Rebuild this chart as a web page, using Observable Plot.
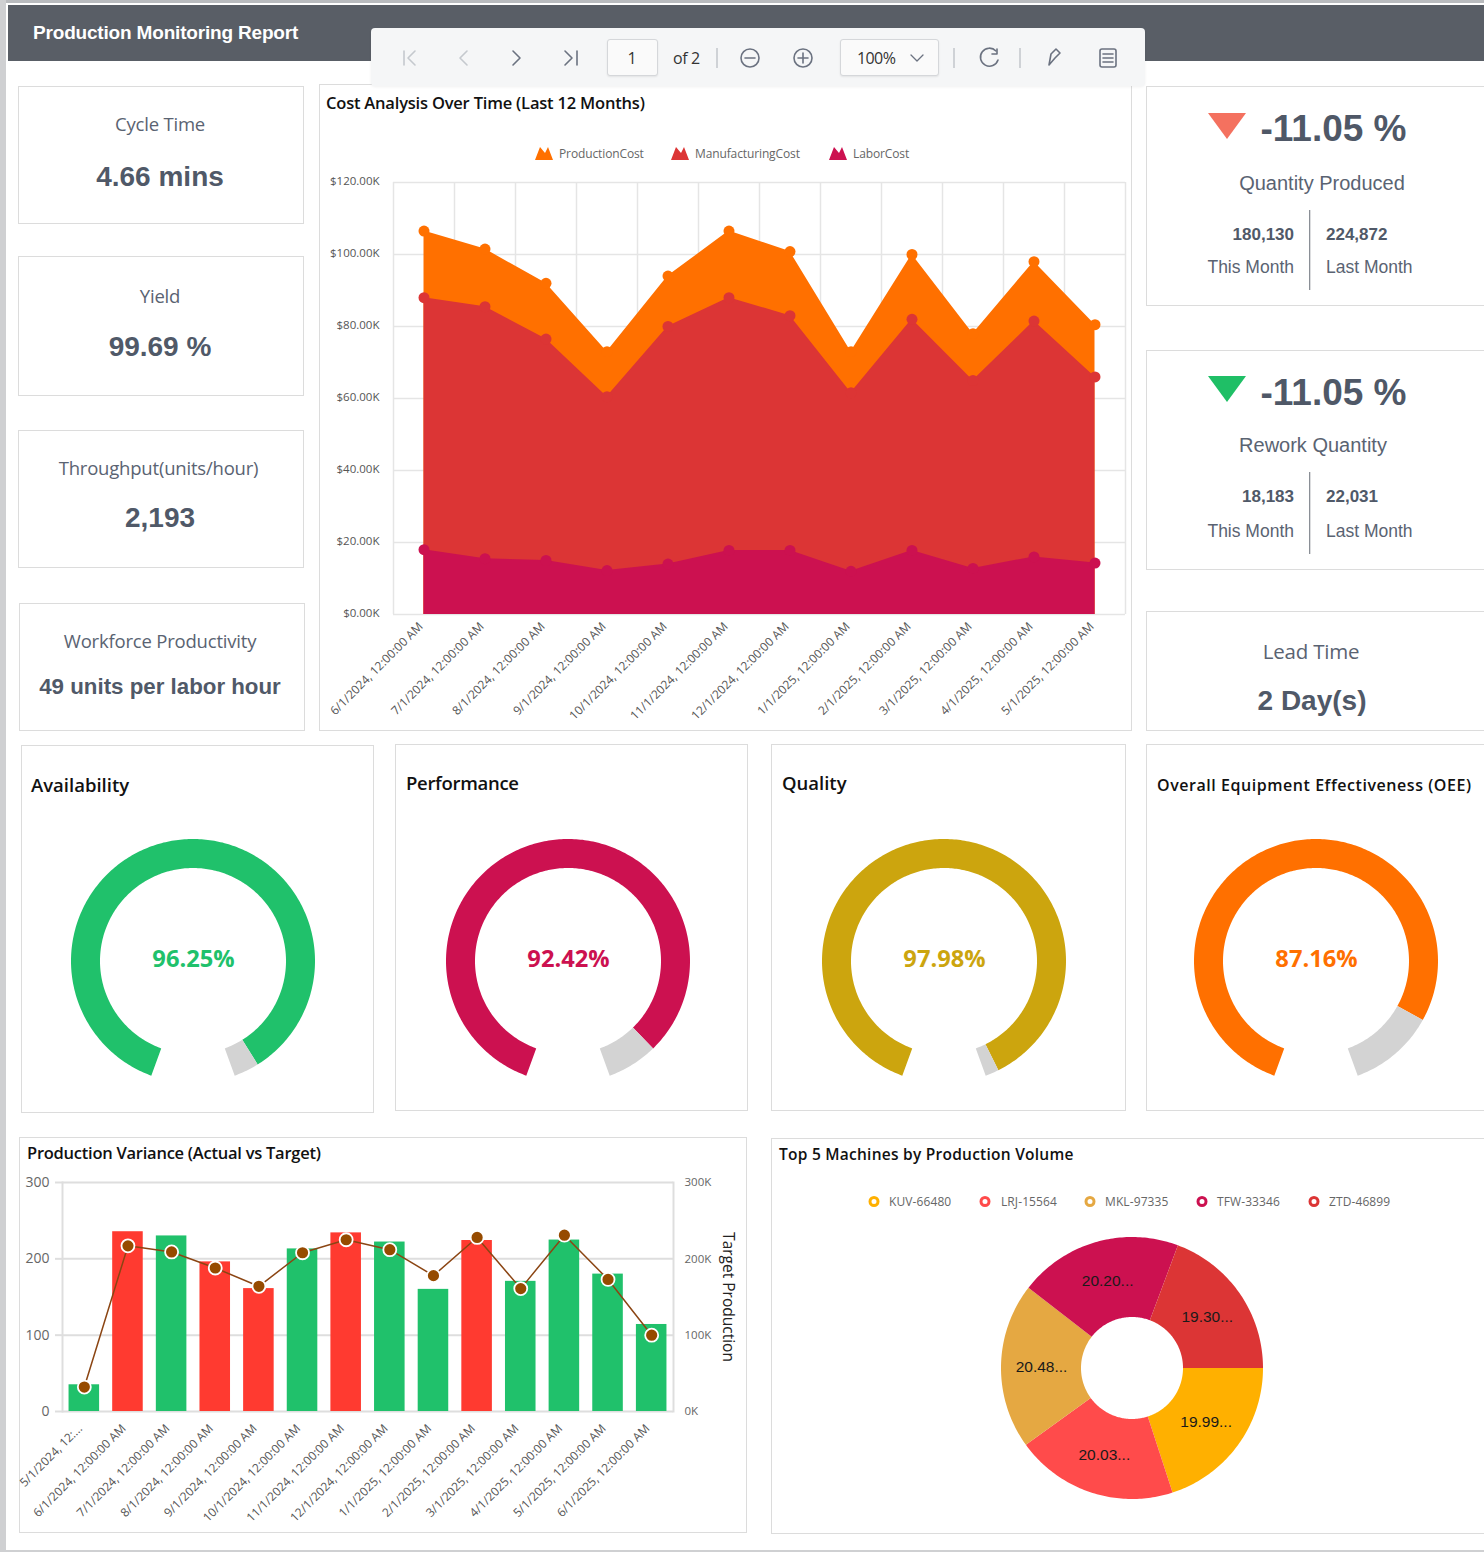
<!DOCTYPE html>
<html><head><meta charset="utf-8">
<script src="https://cdn.jsdelivr.net/npm/d3@7"></script>
<script src="https://cdn.jsdelivr.net/npm/@observablehq/plot@0.6"></script>
<style>
html,body{margin:0;padding:0;background:#fff;}
#page{position:relative;width:1484px;height:1552px;overflow:hidden;background:#fff;font-family:"Open Sans",sans-serif;color:#4f5867;}
.a{position:absolute;}
.t{position:absolute;white-space:nowrap;line-height:1;}
.p{position:absolute;box-sizing:border-box;border:1.5px solid #dcdcdc;background:#fff;}
</style></head><body><div id="page"></div>
<script>
// ---------- data ----------
const costDates = ["6/1/2024, 12:00:00 AM","7/1/2024, 12:00:00 AM","8/1/2024, 12:00:00 AM","9/1/2024, 12:00:00 AM","10/1/2024, 12:00:00 AM","11/1/2024, 12:00:00 AM","12/1/2024, 12:00:00 AM","1/1/2025, 12:00:00 AM","2/1/2025, 12:00:00 AM","3/1/2025, 12:00:00 AM","4/1/2025, 12:00:00 AM","5/1/2025, 12:00:00 AM"];
const productionCost = [106.5,101.5,92,73,94,106.5,100.8,73,100,78,98,80.5];
const manufacturingCost = [88,85.5,76.5,60.5,80,88,83,61.6,82,65,81.5,66];
const laborCost = [18,15.5,15,12.2,14,17.8,17.8,12,17.8,12.8,16,14.3];
const costTicks = [0,20,40,60,80,100,120];
const costSeries = ["ProductionCost","ManufacturingCost","LaborCost"];

const varDates = ["5/1/2024, 12:...","6/1/2024, 12:00:00 AM","7/1/2024, 12:00:00 AM","8/1/2024, 12:00:00 AM","9/1/2024, 12:00:00 AM","10/1/2024, 12:00:00 AM","11/1/2024, 12:00:00 AM","12/1/2024, 12:00:00 AM","1/1/2025, 12:00:00 AM","2/1/2025, 12:00:00 AM","3/1/2025, 12:00:00 AM","4/1/2025, 12:00:00 AM","5/1/2025, 12:00:00 AM","6/1/2025, 12:00:00 AM"];
const actual = [35,235.5,230,196,161,213,234,222,160,224,170.5,224.6,180,114];
const targetK = [32,217,209,188,164,208,225,212,178,228,161,231,173,100];
const missed = [0,1,0,1,1,0,1,0,0,1,0,0,0,0];

const machines = ["KUV-66480","LRJ-15564","MKL-97335","TFW-33346","ZTD-46899"];
const machineShare = [19.99,20.03,20.48,20.20,19.30];
const machineLabels = ["19.99...","20.03...","20.48...","20.20...","19.30..."];
const machineColors = ["#FFB000","#FF4B4B","#E5A842","#CC1150","#DC3535"];

const gaugeNames = ["Availability","Performance","Quality","Overall Equipment Effectiveness (OEE)"];
const gaugeValues = [96.25,92.42,97.98,87.16];
const gaugeColors = ["#20C16B","#CC1150","#CCA50E","#FF7000"];

const green="#20C16B", red="#FF3A30";
const page = document.getElementById("page");

// ---------- helpers ----------
function box(x,y,w,h,extra=""){const d=document.createElement("div");d.className="p";d.style.cssText=`left:${x}px;top:${y}px;width:${w}px;height:${h}px;${extra}`;page.appendChild(d);return d;}
function txt(x,y,s,css,anchor="c"){const d=document.createElement("div");d.className="t";d.textContent=s;
  const tx=anchor==="c"?"-50%":anchor==="r"?"-100%":"0";
  d.style.cssText=`left:${x}px;top:${y}px;transform:translate(${tx},-50%);${css}`;page.appendChild(d);return d;}
function place(svg,x,y){svg.style.position="absolute";svg.style.left=x+"px";svg.style.top=y+"px";svg.style.background="none";svg.style.maxWidth="none";svg.style.overflow="visible";page.appendChild(svg);}
function deco(html){const d=document.createElement("div");d.className="a";d.style.cssText="left:0;top:0;";d.innerHTML=`<svg width="1484" height="1552" style="position:absolute;left:0;top:0;pointer-events:none;overflow:visible">${html}</svg>`;page.appendChild(d);}

// ---------- chrome ----------
const arial='font-family:"Liberation Sans",sans-serif;';
const strip=(x,y,w,h,c)=>{const d=document.createElement("div");d.className="a";d.style.cssText=`left:${x}px;top:${y}px;width:${w}px;height:${h}px;background:${c}`;page.appendChild(d);};
strip(0,0,1484,3,"#b9bbbe");
strip(0,0,6,1552,"#cfd0d2");
strip(0,1550,1484,2,"#cfd0d2");
strip(8,5,1476,56,"#595e66");
txt(33,32,"Production Monitoring Report",`${arial}font-weight:700;font-size:19px;color:#fff;letter-spacing:-.18px;`,"l");

// panels
[[18,86,286,138],[18,256,286,140],[18,430,286,138],[19,603,286,128],
 [319,84,813,647],[1146,86,340,220],[1146,350,340,220],[1146,611,340,120],
 [21,745,353,368],[395,744,353,367],[771,744,355,367],[1146,744,340,367],
 [19,1137,728,396],[771,1138,715,396]].forEach(p=>box(...p));

// KPI left
const kL=[["Cycle Time",124,"4.66 mins",177,28],["Yield",296,"99.69 %",347,28],["Throughput(units/hour)",468,"2,193",518,28],["Workforce Productivity",641,"49 units per labor hour",687,22.3]];
kL.forEach(([a,y1,b,y2,fs])=>{txt(a.startsWith("Through")?158.5:160,y1,a,"font-size:18.5px;color:#5a6372;letter-spacing:-.2px;");txt(160,y2,b,`${arial}font-weight:700;font-size:${fs}px;color:#505968;`);});

// KPI right
const kR=[["#F4715F",113,128,"Quantity Produced",1322,183,"180,130","224,872",234,268,210,290],["#1FBF66",376,392,"Rework Quantity",1313,445,"18,183","22,031",496,532,472,554]];
let dd="";
kR.forEach(([c,ty,vy,n,nx,ny,a,b,y1,y2,d1,d2])=>{
  dd+=`<path d="M1208 ${ty}H1246L1227 ${ty+26}Z" fill="${c}"/><rect x="1309" y="${d1}" width="1.3" height="${d2-d1}" fill="#8a8f96"/>`;
  txt(1333.5,vy,"-11.05 %",`${arial}font-weight:700;font-size:37px;color:#4f5867;`);
  txt(nx,ny,n,`${arial}font-size:20px;color:#5a6372;`);
  txt(1294,y1,a,`${arial}font-weight:700;font-size:17px;color:#505968;`,"r");
  txt(1326,y1,b,`${arial}font-weight:700;font-size:17px;color:#505968;`,"l");
  txt(1294,y2,"This Month",`${arial}font-size:17.5px;color:#5a6372;`,"r");
  txt(1326,y2,"Last Month",`${arial}font-size:17.5px;color:#5a6372;`,"l");
});
txt(1311,651,"Lead Time","font-size:20.5px;color:#5a6372;letter-spacing:-.2px;");
txt(1312,701,"2 Day(s)",`${arial}font-weight:700;font-size:28px;color:#505968;`);
deco(dd);

// chart titles
const ttl="font-weight:600;color:#111;letter-spacing:-.2px;";
txt(326,103,"Cost Analysis Over Time (Last 12 Months)",ttl+"font-size:16.5px;","l");
txt(27,1153,"Production Variance (Actual vs Target)",ttl+"font-size:16.5px;letter-spacing:-.25px;","l");
txt(779,1155,"Top 5 Machines by Production Volume",`font-weight:600;color:#111;font-size:15.5px;letter-spacing:.25px;`,"l");
[[31,785,18.5,0],[406,783,18.5,-.3],[782,783,18.5,0],[1157,785,16,.55]].forEach(([x,y,fs,ls],i)=>txt(x,y,gaugeNames[i],`font-weight:600;color:#111;font-size:${fs}px;letter-spacing:${ls}px;`,"l"));

// ---------- cost area chart ----------
const costColors=["#FF7000","#DC3535","#CC1150"];
const costRows=[productionCost,manufacturingCost,laborCost];
const cols=costDates.map((_,i)=>i);
const edges=d3.range(0,13).map(i=>i-0.5);
const axisFont={fontFamily:"Open Sans, sans-serif",fontSize:12,fill:"#555"};
const costPlot=Plot.plot({
  width:810,height:590,marginLeft:73,marginRight:5,marginTop:42,marginBottom:116,
  x:{type:"linear",domain:[-0.5,11.5],axis:null},
  y:{domain:[0,120],axis:null},
  marks:[
    Plot.ruleX(edges,{stroke:"#e5e5e5",strokeWidth:1.5}),
    Plot.ruleY(costTicks,{stroke:"#e5e5e5",strokeWidth:1.5}),
    ...costRows.flatMap((vals,k)=>[
      Plot.areaY(cols,{x:d=>d,y:d=>vals[d],fill:costColors[k],curve:"linear"}),
      Plot.dot(cols,{x:d=>d,y:d=>vals[d],fill:costColors[k],r:5.5})
    ]),
    Plot.axisY({ticks:costTicks,tickFormat:d=>`$${d}.00K`,tickSize:0,tickPadding:14,dy:-1,...axisFont,fontSize:11.5}),
    Plot.axisX({ticks:cols,tickFormat:d=>costDates[d],tickSize:0,tickPadding:10,dx:-3,tickRotate:-45,...axisFont})
  ]
});
place(costPlot,320,140);

// legend (cost)
let lg="";
[[535,559],[671,695],[829,853]].forEach(([ix,tx],k)=>{
  const b=160;
  lg+=`<path d="M${ix} ${b}L${ix+5} ${b-13}L${ix+10} ${b-7}L${ix+13} ${b-13}L${ix+18} ${b}Z" fill="${costColors[k]}"/>`;
  txt(tx,153.5,costSeries[k],"font-size:12px;color:#666;letter-spacing:-.12px;","l");
});
// legend (donut)
[[874,889],[985,1001],[1090,1105],[1202,1217],[1314,1329]].forEach(([ix,tx],k)=>{
  lg+=`<circle cx="${ix}" cy="1201.5" r="4" fill="none" stroke="${machineColors[k]}" stroke-width="3"/>`;
  txt(tx,1201.5,machines[k],"font-size:12px;color:#666;letter-spacing:.1px;","l");
});
deco(lg);

// ---------- variance chart ----------
const vTicks=[0,100,200,300];
const vRows=varDates.map((d,i)=>({d,actual:actual[i],target:targetK[i],c:missed[i]?red:green}));
const varPlot=Plot.plot({
  width:725,height:360,marginLeft:42,marginRight:72,marginTop:12,marginBottom:119,
  x:{type:"band",domain:varDates,paddingInner:0.3,paddingOuter:0.15,round:false,axis:null},
  y:{domain:[0,300],axis:null},
  color:{type:"identity"},
  marks:[
    Plot.ruleY(vTicks,{stroke:"#dedede",strokeWidth:2}),
    Plot.frame({anchor:"left",stroke:"#dedede",strokeWidth:2}),
    Plot.frame({anchor:"right",stroke:"#dedede",strokeWidth:2}),
    Plot.barY(vRows,{x:"d",y:"actual",fill:"c"}),
    Plot.line(vRows,{x:"d",y:"target",stroke:"#8B4513",strokeWidth:1.5,curve:"linear"}),
    Plot.dot(vRows,{x:"d",y:"target",fill:"#964B00",stroke:"#fff",strokeWidth:1.8,r:6.5}),
    Plot.axisY({ticks:vTicks,tickSize:7,stroke:"#dedede",strokeWidth:2,tickPadding:6,fontFamily:"Open Sans, sans-serif",fontSize:14,fill:"#666",label:null}),
    Plot.axisY({anchor:"right",ticks:vTicks,tickFormat:d=>d+"K",tickSize:0,tickPadding:11,fontFamily:"Open Sans, sans-serif",fontSize:11.5,fill:"#666",label:null}),
    Plot.axisX({tickSize:0,tickPadding:15,dx:-4,tickRotate:-45,label:null,...axisFont}),
    Plot.text(["Target Production"],{frameAnchor:"right",textAnchor:"middle",dx:54,rotate:90,fontFamily:"Open Sans, sans-serif",fontSize:15.5,fill:"#222"})
  ]
});
place(varPlot,20,1170);

// ---------- polar helper ----------
const ring=(name,color,start,end,ri,ro)=>{ // angles clockwise from north, degrees
  const n=Math.max(2,Math.ceil(Math.abs(end-start)));
  return d3.range(n+1).map(i=>{const t=(start+(end-start)*i/n)*Math.PI/180;
    return {name,color,x1:ri*Math.sin(t),y1:ri*Math.cos(t),x2:ro*Math.sin(t),y2:ro*Math.cos(t)};});
};

// ---------- gauges ----------
const gaugeCenters=[[193,961],[568,961],[944,961],[1316,961]];
const SWEEP=320,G0=200;
gaugeValues.forEach((v,i)=>{
  const valEnd=G0+SWEEP*v/100;
  const pts=[...ring("value",gaugeColors[i],G0,valEnd,93,122),...ring("rest","#D3D3D3",valEnd,G0+SWEEP,93,122)];
  const pl=Plot.plot({width:260,height:260,margin:0,
    x:{domain:[-130,130],axis:null},y:{domain:[-130,130],axis:null},color:{type:"identity"},
    marks:[
      Plot.area(pts,{x1:"x1",y1:"y1",x2:"x2",y2:"y2",z:"name",fill:"color",curve:"linear"}),
      Plot.text([v.toFixed(2)+"%"],{x:0,y:0,dy:-2,fill:gaugeColors[i],fontSize:23.7,fontWeight:700,fontFamily:"Open Sans, sans-serif"})
    ]});
  place(pl,gaugeCenters[i][0]-130,gaugeCenters[i][1]-130);
});

// ---------- donut ----------
{
  const total=d3.sum(machineShare);
  let a=90,pts=[],labs=[];
  machineShare.forEach((v,i)=>{
    const e=a+v/total*360;
    pts.push(...ring(machines[i],machineColors[i],a,e,51,131));
    const m=(a+e)/2*Math.PI/180;
    labs.push({s:machineLabels[i],x:91*Math.sin(m),y:91*Math.cos(m)});
    a=e;
  });
  const pl=Plot.plot({width:300,height:300,margin:0,
    x:{domain:[-150,150],axis:null},y:{domain:[-150,150],axis:null},color:{type:"identity"},
    marks:[
      Plot.area(pts,{x1:"x1",y1:"y1",x2:"x2",y2:"y2",z:"name",fill:"color",curve:"linear"}),
      Plot.text(labs,{x:"x",y:"y",text:"s",fill:"#1a1a1a",fontSize:15.5,fontFamily:"Liberation Sans, sans-serif"})
    ]});
  place(pl,1132-150,1368-150);
}

// ---------- report toolbar ----------
const tb=document.createElement("div");tb.className="a";
tb.style.cssText="left:371px;top:28px;width:774px;height:58px;background:#f5f6f7;border-radius:4px;box-shadow:0 1px 3px rgba(0,0,0,.06)";
page.appendChild(tb);
const stroke='fill="none" stroke-linecap="round" stroke-linejoin="round"';
const inp=(x,w)=>{const d=document.createElement("div");d.className="a";d.style.cssText=`left:${x}px;top:39px;width:${w}px;height:37px;background:#fafafa;box-sizing:border-box;border:1px solid #d5d7da;border-radius:3px;box-shadow:0 1px 2px rgba(0,0,0,.08)`;page.appendChild(d);};
inp(607,51);inp(840,99);
deco(`
<g ${stroke} stroke-width="1.6">
<path d="M404 51V65M415 51L408 58L415 65" stroke="#c5c9ce"/>
<path d="M467 51L460 58L467 65" stroke="#c5c9ce"/>
<path d="M513 51L520 58L513 65" stroke="#6b7280"/>
<path d="M565 51L572 58L565 65M577 51V65" stroke="#6b7280"/>
<circle cx="750" cy="58" r="9" stroke="#6b7280"/><path d="M745 58H755" stroke="#6b7280"/>
<circle cx="803" cy="58" r="9" stroke="#6b7280"/><path d="M798 58H808M803 53V63" stroke="#6b7280"/>
<path d="M911 55L917 61L923 55" stroke="#6b7280" stroke-width="1.3"/>
<path d="M996 51A9 9 0 1 0 998 60" stroke="#6b7280"/><path d="M997 49V54H992" stroke="#6b7280"/>
<path d="M1049 65L1051 54L1056 49L1060 53L1055 58L1049 65Z" stroke="#6b7280"/>
<rect x="1100" y="49" width="16" height="18" rx="2" stroke="#6b7280"/><path d="M1103 54H1113M1103 58H1113M1103 62H1113" stroke="#6b7280"/>
</g>
<rect x="716" y="48" width="2" height="20" fill="#cfd2d6"/><rect x="953" y="48" width="2" height="20" fill="#cfd2d6"/><rect x="1019" y="48" width="2" height="20" fill="#cfd2d6"/>
`);
txt(632,58,"1","font-size:16px;color:#333;");
txt(673,58,"of 2","font-size:16px;color:#333;letter-spacing:-.4px;","l");
txt(857,58,"100%","font-size:16px;color:#333;letter-spacing:-.6px;","l");
</script></body></html>
